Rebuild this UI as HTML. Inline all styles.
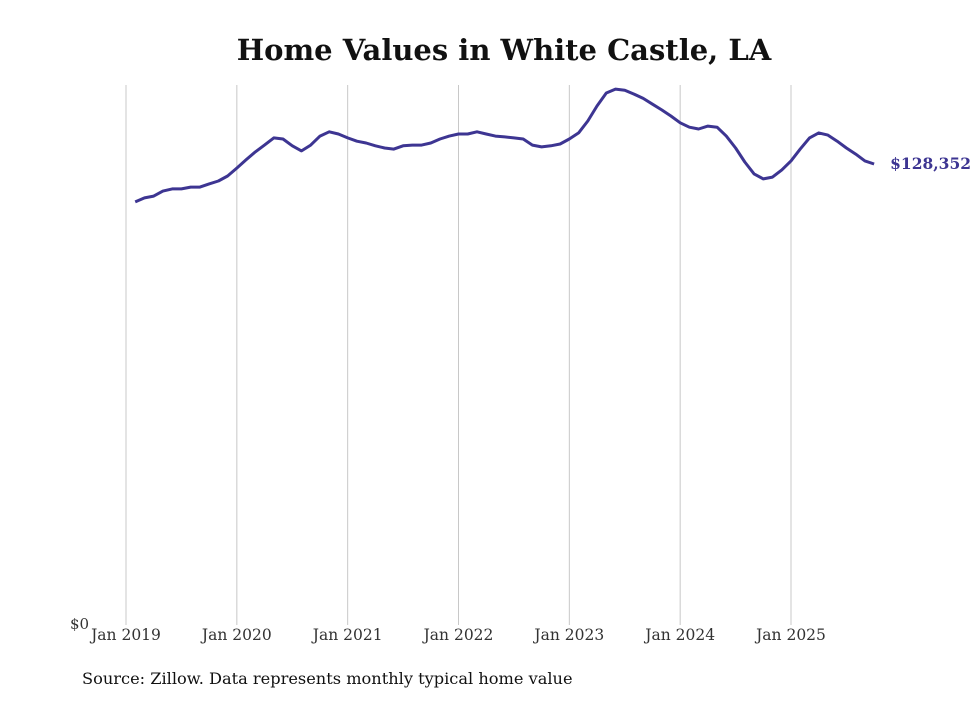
<!DOCTYPE html>
<html><head><meta charset="utf-8"><style>
body{margin:0;background:#fff;}
svg text{font-family:"DejaVu Serif","Liberation Serif",serif;}
</style></head><body>
<svg width="980" height="699">
<text x="504" y="60" text-anchor="middle" font-size="29" font-weight="bold" fill="#111">Home Values in White Castle, LA</text>
<g id="grid"></g>
<g id="xlabels"></g>
<text x="70" y="629" font-size="15" fill="#333">$0</text>
<path id="line" fill="none" stroke="#3d3592" stroke-width="3" stroke-linejoin="round"/>
<text id="endlabel" font-size="15.5" font-weight="bold" fill="#3d3592"></text>
<text x="82" y="684" font-size="16.2" fill="#111">Source: Zillow. Data represents monthly typical home value</text>
</svg>
<script>
const yearLabels=["Jan 2019","Jan 2020","Jan 2021","Jan 2022","Jan 2023","Jan 2024","Jan 2025"];
const startMonth=1; // Feb 2019 = month index 1 from Jan 2019
const values=[117800,118900,119400,120800,121400,121400,121900,121900,122800,123600,125000,127200,129500,131700,133600,135600,135300,133400,132000,133600,136100,137300,136700,135600,134700,134200,133400,132800,132500,133400,133600,133600,134200,135300,136100,136700,136700,137300,136700,136100,135900,135600,135300,133600,133100,133400,133900,135300,137000,140300,144500,148100,149200,148900,147800,146600,145000,143400,141700,139800,138600,138100,138900,138600,136100,132800,128900,125600,124200,124700,126700,129200,132500,135600,137000,136400,134700,132800,131100,129200,128352];
const x=m=>126+m*(665/72);
const y=v=>625-v/278.4;
const NS="http://www.w3.org/2000/svg";
const grid=document.getElementById('grid'),xl=document.getElementById('xlabels');
yearLabels.forEach((lab,i)=>{
 const l=document.createElementNS(NS,'line');
 l.setAttribute('x1',x(i*12));l.setAttribute('x2',x(i*12));l.setAttribute('y1',85);l.setAttribute('y2',625);
 l.setAttribute('stroke','#c8c8c8');l.setAttribute('stroke-width','1');
 
 
 grid.appendChild(l);
 const t=document.createElementNS(NS,'text');
 t.setAttribute('x',x(i*12));t.setAttribute('y',640);t.setAttribute('text-anchor','middle');
 t.setAttribute('font-size','15.5');t.setAttribute('fill','#333');t.textContent=lab;
 
 
 xl.appendChild(t);
});
document.getElementById('line').setAttribute('d',values.map((v,i)=>(i?'L':'M')+x(startMonth+i).toFixed(1)+','+y(v).toFixed(1)).join(''));
const last=values[values.length-1],el=document.getElementById('endlabel');
el.setAttribute('x',x(startMonth+values.length-1)+16);el.setAttribute('y',y(last)+5);
el.textContent='$'+last.toLocaleString('en-US');
</script>
</body></html>
